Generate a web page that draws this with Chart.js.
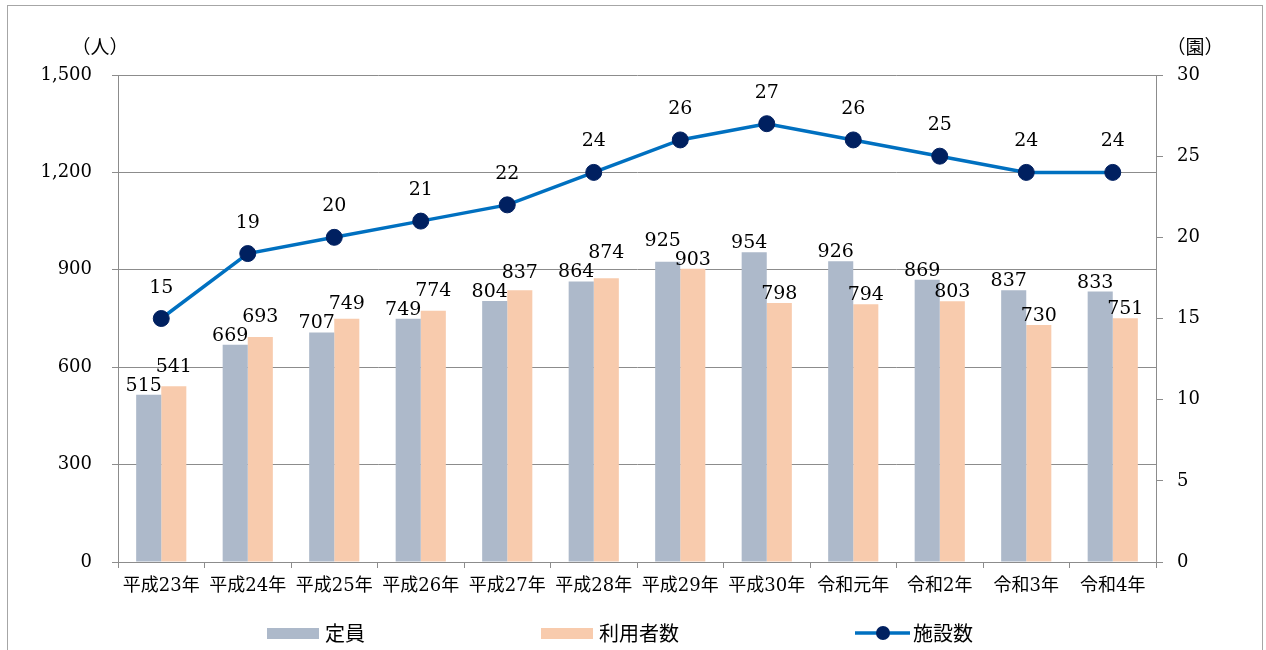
<!DOCTYPE html>
<html lang="ja">
<head>
  <meta charset="UTF-8" />
  <title>定員・利用者数・施設数</title>
  <script src="https://cdn.jsdelivr.net/npm/chart.js"></script>
  <style>
    body {
      margin: 0;
      padding: 0;
      background: #fff;
      overflow: hidden;
    }
    .wrap {
      position: relative;
      width: 1266px;
      height: 650px;
    }
    .frame {
      position: absolute;
      left: 7px;
      top: 5px;
      width: 1254px;
      height: 660px;
      border: 1px solid #a6a6a6;
    }
    canvas {
      position: absolute;
      left: 0;
      top: 0;
    }
  </style>
</head>
<body>
  <div class="wrap">
    <div class="frame"></div>
    <canvas id="chart"></canvas>
  </div>

  <script>
    const categories = ['平成23年', '平成24年', '平成25年', '平成26年', '平成27年', '平成28年',
                        '平成29年', '平成30年', '令和元年', '令和2年', '令和3年', '令和4年'];
    const capacity   = [515, 669, 707, 749, 804, 864, 925, 954, 926, 869, 837, 833];
    const users      = [541, 693, 749, 774, 837, 874, 903, 798, 794, 803, 730, 751];
    const facilities = [15, 19, 20, 21, 22, 24, 26, 27, 26, 25, 24, 24];
    const seriesNames = ['定員', '利用者数', '施設数'];
    const leftTitle = '（人）';
    const rightTitle = '（園）';

    const GRAY = '#adb9ca';
    const PEACH = '#f8cbad';
    const LINE = '#0070c0';
    const DOT = '#002060';
    const AXIS = '#8c8c8c';
    const NUM_FONT = "19px 'DejaVu Serif', 'Noto Sans CJK JP'";

    // value labels over bars and points
    const labelPlugin = {
      id: 'valueLabels',
      afterDatasetsDraw(chart) {
        const ctx = chart.ctx;
        const gm = chart.getDatasetMeta(0);
        const om = chart.getDatasetMeta(1);
        const lm = chart.getDatasetMeta(2);
        ctx.save();
        ctx.font = NUM_FONT;
        ctx.fillStyle = '#000';
        ctx.textAlign = 'center';
        ctx.textBaseline = 'alphabetic';
        for (let i = 0; i < categories.length; i++) {
          const g = gm.data[i], o = om.data[i];
          let gy = g.y - 4, oy = o.y - 4;
          if (Math.abs(gy - oy) < 19) {
            if (g.y < o.y) gy = Math.min(gy, oy - 19);
            else oy = Math.min(oy, gy - 19);
          }
          ctx.fillText(String(capacity[i]), g.x - 5, gy);
          ctx.fillText(String(users[i]), o.x, oy);
          const p = lm.data[i];
          ctx.fillText(String(facilities[i]), p.x, p.y - 26);
        }
        ctx.restore();
      },
      afterDraw(chart) {
        const ctx = chart.ctx;
        ctx.save();
        // axis unit titles
        ctx.font = "19px 'Noto Sans CJK JP'";
        ctx.fillStyle = '#000';
        ctx.textAlign = 'center';
        ctx.textBaseline = 'middle';
        ctx.fillText(leftTitle, 100, 47);
        ctx.fillText(rightTitle, 1195, 47);

        // legend
        ctx.font = "20px 'Noto Sans CJK JP'";
        ctx.textAlign = 'left';
        const cy = 633;
        const gap = 176;
        const widths = seriesNames.map(n => 58 + ctx.measureText(n).width);
        const total = widths.reduce((a, b) => a + b, 0) + gap * 2;
        let x = 620 - total / 2;
        [GRAY, PEACH].forEach((c, k) => {
          ctx.fillStyle = c;
          ctx.fillRect(x, cy - 5, 52, 11);
          ctx.fillStyle = '#000';
          ctx.fillText(seriesNames[k], x + 58, cy);
          x += widths[k] + gap;
        });
        ctx.strokeStyle = LINE;
        ctx.lineWidth = 3.5;
        ctx.beginPath();
        ctx.moveTo(x, cy);
        ctx.lineTo(x + 55, cy);
        ctx.stroke();
        ctx.fillStyle = DOT;
        ctx.beginPath();
        ctx.arc(x + 28, cy, 7, 0, Math.PI * 2);
        ctx.fill();
        ctx.fillStyle = '#000';
        ctx.fillText(seriesNames[2], x + 58, cy);
        ctx.restore();
      }
    };

    new Chart(document.getElementById('chart'), {
      data: {
        labels: categories,
        datasets: [
          {
            type: 'bar',
            label: seriesNames[0],
            data: capacity,
            backgroundColor: GRAY,
            yAxisID: 'y',
            order: 2,
            categoryPercentage: 0.58,
            barPercentage: 1
          },
          {
            type: 'bar',
            label: seriesNames[1],
            data: users,
            backgroundColor: PEACH,
            yAxisID: 'y',
            order: 2,
            categoryPercentage: 0.58,
            barPercentage: 1
          },
          {
            type: 'line',
            label: seriesNames[2],
            data: facilities,
            yAxisID: 'y1',
            order: 0,
            borderColor: LINE,
            borderWidth: 3.5,
            pointRadius: 8,
            pointBorderWidth: 1,
            pointBackgroundColor: DOT,
            pointBorderColor: DOT,
            tension: 0
          }
        ]
      },
      options: {
        responsive: true,
        maintainAspectRatio: false,
        animation: false,
        events: [],
        layout: { padding: { top: 75, left: 0, right: 0, bottom: 0 } },
        plugins: {
          legend: { display: false },
          tooltip: { enabled: false }
        },
        scales: {
          x: {
            offset: true,
            grid: { offset: true, drawOnChartArea: false, drawTicks: true, tickLength: 6, color: AXIS },
            border: { color: AXIS },
            ticks: {
              color: '#000',
              padding: 8,
              maxRotation: 0,
              autoSkip: false,
              font: { family: "'DejaVu Serif', 'Noto Sans CJK JP'", size: 18 }
            },
            afterFit(s) { s.height = 88; }
          },
          y: {
            position: 'left',
            min: 0,
            max: 1500,
            grid: { color: AXIS, tickLength: 6 },
            border: { color: AXIS },
            ticks: {
              stepSize: 300,
              color: '#000',
              padding: 20,
              font: { family: "'DejaVu Serif'", size: 18 },
              callback: v => v.toLocaleString('en-US')
            },
            afterFit(s) { s.width = 118; }
          },
          y1: {
            position: 'right',
            min: 0,
            max: 30,
            grid: { drawOnChartArea: false, color: AXIS, tickLength: 7 },
            border: { color: AXIS },
            ticks: {
              stepSize: 5,
              color: '#000',
              padding: 14,
              font: { family: "'DejaVu Serif'", size: 18 }
            },
            afterFit(s) { s.width = 110; }
          }
        }
      },
      plugins: [labelPlugin]
    });
  </script>
</body>
</html>
